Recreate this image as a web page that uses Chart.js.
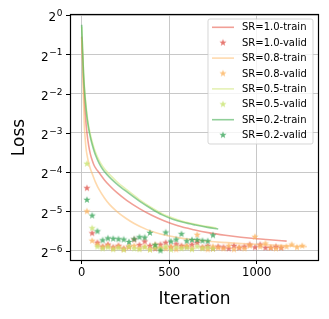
<!DOCTYPE html>
<html><head><meta charset="utf-8">
<script src="https://cdn.jsdelivr.net/npm/chart.js@4.4.0/dist/chart.umd.min.js"></script>
<style>html,body{margin:0;padding:0;background:#fff;}canvas{display:block;}</style>
</head><body>
<canvas id="c" width="329" height="319"></canvas>
<script>
// ---------- data (loss values are stored as log2(loss)) ----------
const seriesNames = ['SR=1.0', 'SR=0.8', 'SR=0.5', 'SR=0.2'];
const xTicks = [0, 500, 1000];
const yTickExponents = [0, -1, -2, -3, -4, -5, -6];
const yTickBase = '2';
const yTickExponentLabels = ['0', '−1', '−2', '−3', '−4', '−5', '−6'];

const trainIterSR10 = [0, 5, 10, 15, 20, 30, 40, 50, 60, 70, 80, 100, 130, 160, 200, 257, 330, 400, 470, 550, 640, 730, 820, 910, 1000, 1090, 1171];
const trainLog2SR10 = [-0.55, -1.05, -1.68, -2.15, -2.5, -3.0, -3.33, -3.55, -3.7, -3.82, -3.9, -4.02, -4.2, -4.35, -4.52, -4.72, -4.93, -5.1, -5.24, -5.37, -5.47, -5.55, -5.61, -5.66, -5.7, -5.73, -5.76];

const trainIterSR08 = [0, 5, 10, 15, 20, 25, 30, 40, 50, 60, 80, 100, 130, 160, 200, 250, 300, 370, 450, 550, 650, 800, 1000, 1150, 1286];
const trainLog2SR08 = [-0.6, -1.25, -2.1, -2.8, -3.15, -3.4, -3.55, -3.77, -3.92, -4.04, -4.27, -4.45, -4.66, -4.83, -5.0, -5.17, -5.31, -5.46, -5.58, -5.67, -5.73, -5.79, -5.84, -5.87, -5.9];

const trainIterSR05 = [0, 5, 10, 15, 20, 30, 40, 50, 60, 70, 80, 100, 120, 140, 170, 200, 257, 330, 400, 460, 520, 580, 650, 720, 770];
const trainLog2SR05 = [-0.3, -0.85, -1.38, -1.78, -2.08, -2.52, -2.83, -3.05, -3.23, -3.38, -3.51, -3.71, -3.86, -3.97, -4.11, -4.24, -4.45, -4.7, -4.91, -5.06, -5.17, -5.26, -5.33, -5.39, -5.42];

const trainIterSR02 = [0, 5, 10, 15, 20, 30, 40, 50, 60, 70, 80, 100, 120, 140, 170, 200, 257, 330, 400, 460, 520, 580, 650, 720, 780];
const trainLog2SR02 = [-0.25, -0.9, -1.45, -1.85, -2.15, -2.6, -2.9, -3.12, -3.3, -3.45, -3.58, -3.78, -3.93, -4.04, -4.18, -4.3, -4.5, -4.74, -4.94, -5.09, -5.2, -5.28, -5.35, -5.41, -5.45];

const validIter = [30, 60, 90, 120, 150, 180, 210, 240, 270, 300, 330, 360, 390, 420, 450, 480, 510, 540, 570, 600,
  630, 660, 690, 720, 750, 780, 810, 840, 870, 900, 930, 960, 990, 1020, 1050, 1080, 1110, 1140, 1170, 1200, 1230, 1260];

const validLog2SR10 = [-4.41, -5.56, -5.80, -5.90, -5.85, -5.92, -5.88, -5.95, -5.90, -5.72,
  -5.86, -5.77, -5.88, -5.95, -5.85, -5.80, -5.92, -5.84, -5.88, -5.90,
  -5.85, -5.80, -5.92, -5.88, -5.95, -5.90, -5.92, -5.95, -5.88, -5.93,
  -5.90, -5.85, -5.92, -5.85, -5.93, -5.93, -5.90, -5.93];

const validLog2SR08 = [-5.00, -5.75, -5.85, -5.92, -5.88, -5.95, -5.90, -5.97, -5.92, -5.88,
  -5.95, -5.90, -5.97, -5.85, -5.93, -5.95, -5.90, -5.97, -5.92, -5.88,
  -5.95, -5.60, -5.93, -5.97, -5.90, -5.93, -5.95, -5.88, -5.97, -5.92,
  -5.95, -5.88, -5.65, -5.90, -5.82, -5.93, -5.95, -5.92, -5.90, -5.85,
  -5.92, -5.88];

const validLog2SR05 = [-3.79, -5.43, -5.90, -5.95, -5.92, -5.97, -5.93, -5.98, -5.90, -5.95,
  -5.97, -5.92, -5.98, -5.93, -5.96, -5.90, -5.98, -5.92, -5.95, -5.93,
  -5.97, -5.90, -5.95, -5.92, -5.96];

const validLog2SR02 = [-4.71, -5.11, -5.51, -5.74, -5.69, -5.70, -5.71, -5.72, -5.78, -5.71,
  -5.66, -5.67, -5.55, -5.86, -6.00, -5.54, -5.77, -5.72, -5.58, -5.76,
  -5.73, -5.73, -5.75, -5.76, -5.61];

// ---------- styling ----------
const lineColors = ['rgba(232,95,80,0.6)', 'rgba(253,185,105,0.55)', 'rgba(210,232,130,0.6)', 'rgba(70,175,85,0.6)'];
const starColors = ['rgba(222,75,65,0.75)', 'rgba(253,180,95,0.8)', 'rgba(200,228,110,0.8)', 'rgba(45,160,80,0.75)'];
const FONT = 'DejaVu Sans';

function makeStar(color, r) {
  const s = Math.ceil(r * 2) + 2;
  const cv = document.createElement('canvas');
  cv.width = s; cv.height = s;
  const g = cv.getContext('2d');
  g.fillStyle = color;
  g.beginPath();
  const cx = s / 2, cy = s / 2, ri = r * 0.4;
  for (let k = 0; k < 10; k++) {
    const a = -Math.PI / 2 + k * Math.PI / 5;
    const rr = k % 2 === 0 ? r : ri;
    const px = cx + rr * Math.cos(a), py = cy + rr * Math.sin(a);
    if (k === 0) g.moveTo(px, py); else g.lineTo(px, py);
  }
  g.closePath();
  g.fill();
  return cv;
}
const stars = starColors.map(c => makeStar(c, 3.8));

const toPts = (xs, logs) => logs.map((v, i) => ({ x: xs[i], y: Math.pow(2, v) }));

const trainSets = [
  [trainIterSR10, trainLog2SR10], [trainIterSR08, trainLog2SR08],
  [trainIterSR05, trainLog2SR05], [trainIterSR02, trainLog2SR02]
];
const validSets = [validLog2SR10, validLog2SR08, validLog2SR05, validLog2SR02];

const datasets = [];
seriesNames.forEach((name, i) => {
  datasets.push({
    label: name + '-train', kind: 'train',
    data: toPts(trainSets[i][0], trainSets[i][1]),
    borderColor: lineColors[i], borderWidth: 1.6, pointRadius: 0,
    cubicInterpolationMode: 'monotone', fill: false
  });
  datasets.push({
    label: name + '-valid', kind: 'valid',
    data: toPts(validIter, validSets[i]),
    showLine: false, pointStyle: stars[i], pointRadius: 4,
    borderColor: starColors[i], backgroundColor: starColors[i], starImg: stars[i]
  });
});
datasets.forEach((d, i) => { d.order = datasets.length - i; });

const framePlugin = {
  id: 'frame',
  afterDraw(chart) {
    const { ctx, chartArea: a } = chart;
    ctx.save();
    // y tick marks and labels (base 2 with a raised exponent), placed by the y scale
    const ys = chart.scales.y;
    const rightX = a.left - 8.5;
    ctx.strokeStyle = '#000';
    ctx.lineWidth = 1;
    ctx.fillStyle = '#000';
    ctx.textAlign = 'right';
    ctx.textBaseline = 'alphabetic';
    yTickExponents.forEach((e, i) => {
      const py = ys.getPixelForValue(Math.pow(2, e));
      const pyA = Math.round(py) + 0.5;
      ctx.beginPath(); ctx.moveTo(a.left - 5, pyA); ctx.lineTo(a.left, pyA); ctx.stroke();
      ctx.font = '9px "' + FONT + '"';
      const ew = ctx.measureText(yTickExponentLabels[i]).width;
      ctx.fillText(yTickExponentLabels[i], rightX, py + 1.2);
      ctx.font = '12px "' + FONT + '"';
      ctx.fillText(yTickBase, rightX - ew - 0.6, py + 6.3);
    });
    // spines
    ctx.strokeStyle = '#000';
    ctx.lineWidth = 1.2;
    ctx.strokeRect(a.left - 0.5, a.top - 0.5, a.right - a.left + 1, a.bottom - a.top + 1);
    // legend
    const x0 = a.right - 5, w = 105, left = x0 - w, top = a.top + 4, rowH = 15.4, h = 125;
    ctx.fillStyle = 'rgba(255,255,255,0.8)';
    ctx.strokeStyle = 'rgba(204,204,204,0.8)';
    ctx.lineWidth = 1;
    const r = 2;
    ctx.beginPath();
    ctx.moveTo(left + r, top);
    ctx.lineTo(left + w - r, top); ctx.quadraticCurveTo(left + w, top, left + w, top + r);
    ctx.lineTo(left + w, top + h - r); ctx.quadraticCurveTo(left + w, top + h, left + w - r, top + h);
    ctx.lineTo(left + r, top + h); ctx.quadraticCurveTo(left, top + h, left, top + h - r);
    ctx.lineTo(left, top + r); ctx.quadraticCurveTo(left, top, left + r, top);
    ctx.closePath();
    ctx.fill(); ctx.stroke();
    ctx.font = '10px "' + FONT + '"';
    ctx.textBaseline = 'middle';
    ctx.textAlign = 'left';
    chart.data.datasets.forEach((d, i) => {
      const y = top + 8.3 + i * rowH;
      if (d.kind === 'train') {
        ctx.strokeStyle = d.borderColor; ctx.lineWidth = 1.6;
        ctx.beginPath(); ctx.moveTo(left + 4, y); ctx.lineTo(left + 26, y); ctx.stroke();
      } else {
        const img = d.starImg;
        ctx.drawImage(img, left + 15 - img.width / 2, y - img.height / 2);
      }
      ctx.fillStyle = '#000';
      ctx.fillText(d.label, left + 34, y + 0.5);
    });
    ctx.restore();
  }
};

new Chart(document.getElementById('c'), {
  type: 'line',
  data: { datasets },
  options: {
    responsive: false, animation: false, devicePixelRatio: 1,
    layout: { padding: { top: 15, right: 11, left: 0, bottom: 0 } },
    plugins: { legend: { display: false }, tooltip: { enabled: false } },
    scales: {
      x: {
        type: 'linear', min: -61, max: 1350,
        afterBuildTicks: s => { s.ticks = xTicks.map(v => ({ value: v })); },
        ticks: { font: { family: FONT, size: 11.5 }, color: '#000', padding: 2, maxRotation: 0, autoSkip: false,
          callback: v => String(v) },
        grid: { color: '#c2c2c2', lineWidth: 0.9, tickColor: '#000', tickLength: 4, tickWidth: 1 },
        border: { display: false },
        title: { display: true, text: 'Iteration', color: '#000', font: { family: FONT, size: 17 }, padding: { top: 0, bottom: 9 } },
        afterFit: s => { s.height = 59; }
      },
      y: {
        type: 'logarithmic', min: Math.pow(2, -6.24), max: 1,
        afterBuildTicks: s => { s.ticks = yTickExponents.map(e => ({ value: Math.pow(2, e) })); },
        ticks: { display: false },
        grid: { color: '#c2c2c2', lineWidth: 0.9, drawTicks: false },
        border: { display: false },
        title: { display: true, text: 'Loss', color: '#000', font: { family: FONT, size: 17 }, padding: { top: 9, bottom: 0 } },
        afterFit: s => { s.width = 71; }
      }
    }
  },
  plugins: [framePlugin]
});
</script>
</body></html>
